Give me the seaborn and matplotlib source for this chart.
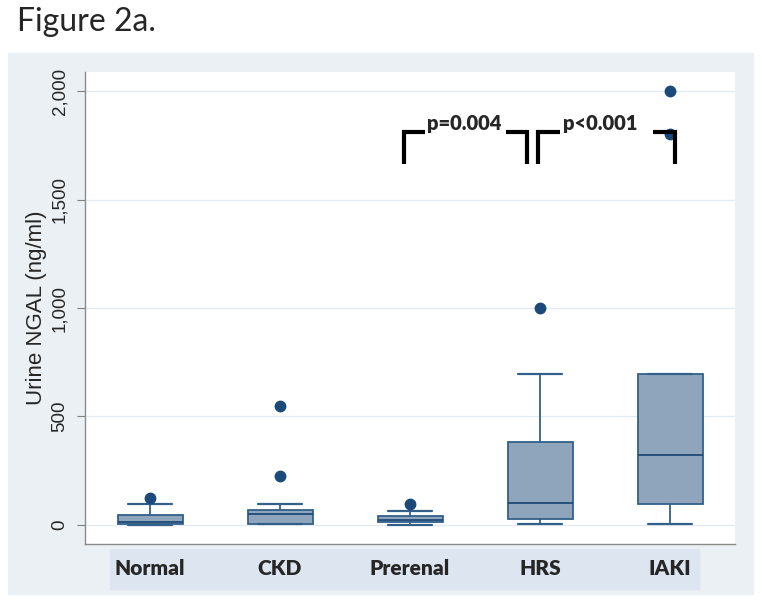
import numpy as np
import matplotlib.pyplot as plt
import seaborn as sns
from matplotlib.patches import Rectangle

# groups and box summaries (ng/ml)
groups = ["Normal", "CKD", "Prerenal", "HRS", "IAKI"]
whis_lo = [0, 2, 0, 2, 6]
q1 = [5, 5, 12, 25, 95]
medians = [15, 49, 23, 101, 323]
q3 = [45, 68, 41, 381, 698]
whis_hi = [97, 97, 66, 698, 698]
outliers = [[126], [226, 548], [97], [998], [1802, 2000]]

p_labels = ["p=0.004", "p<0.001"]

sns.set_theme(style="white")
plt.rcParams["font.family"] = ["Liberation Sans", "DejaVu Sans"]

fig = plt.figure(figsize=(7.62, 6.03), dpi=100)
W, H = 762, 603

# grey panel behind the plot and the blue band behind the category names
fig.patches.append(Rectangle((8 / W, 1 - 594 / H), 745 / W, 541 / H,
                             transform=fig.transFigure, color="#EAF0F3", zorder=-2))
fig.patches.append(Rectangle((110 / W, 1 - 589 / H), 589 / W, 40 / H,
                             transform=fig.transFigure, color="#DCE5F0", zorder=-1))

ax = fig.add_axes([85 / W, 1 - 544 / H, 650 / W, 472 / H])
ax.set_facecolor("white")

stats = []
for i, g in enumerate(groups):
    stats.append({"label": g, "whislo": whis_lo[i], "q1": q1[i], "med": medians[i],
                  "q3": q3[i], "whishi": whis_hi[i], "fliers": outliers[i]})

edge = "#33608A"
ax.bxp(stats, positions=np.arange(len(groups)), widths=0.5, capwidths=0.34,
       patch_artist=True,
       boxprops=dict(facecolor="#8FA5BB", edgecolor=edge, linewidth=1.3),
       medianprops=dict(color="#1F4B78", linewidth=1.3),
       whiskerprops=dict(color=edge, linewidth=1.3),
       capprops=dict(color=edge, linewidth=1.6),
       flierprops=dict(marker="o", markerfacecolor="#1B4A7A", markeredgecolor="#1B4A7A",
                       markersize=7.5))

ax.set_xlim(-0.5, 4.5)
ax.set_ylim(-88, 2088)
yt = [0, 500, 1000, 1500, 2000]
ax.set_yticks(yt)
ax.set_yticklabels([f"{v:,}" for v in yt], rotation=90, va="center", fontsize=13.5)
ax.yaxis.grid(True, color="#E3EBF0", linewidth=1)
ax.set_axisbelow(True)
ax.tick_params(axis="y", left=True, length=6, width=0.8, color="#808080", pad=6)
ax.set_ylabel("Urine NGAL (ng/ml)", fontsize=16, labelpad=3)

ax.set_xticks(np.arange(len(groups)))
ax.set_xticklabels(groups, fontsize=15, fontweight="heavy", family="Lato")
ax.tick_params(axis="x", bottom=False, length=0, pad=11)

sns.despine(ax=ax)
for s in ["left", "bottom"]:
    ax.spines[s].set_color("#8A8A8A")
    ax.spines[s].set_linewidth(1)

# significance brackets
bk = dict(color="black", linewidth=3, solid_joinstyle="miter", solid_capstyle="butt")
ax.plot([1.95, 1.95, 2.115], [1664, 1811, 1811], **bk)
ax.plot([2.74, 2.9, 2.9], [1811, 1811, 1664], **bk)
ax.plot([2.985, 2.985, 3.15], [1664, 1811, 1811], **bk)
ax.plot([3.87, 4.04, 4.04], [1811, 1811, 1664], **bk)
ax.text(2.42, 1850, p_labels[0], ha="center", va="center", fontsize=14.5,
        fontweight="heavy", family="Lato")
ax.text(3.46, 1850, p_labels[1], ha="center", va="center", fontsize=14.5,
        fontweight="heavy", family="Lato")

fig.text(17 / W, 1 - 22 / H, "Figure 2a.", fontsize=23, family="Lato",
         ha="left", va="center")

fig.savefig("out.png", dpi=100)
